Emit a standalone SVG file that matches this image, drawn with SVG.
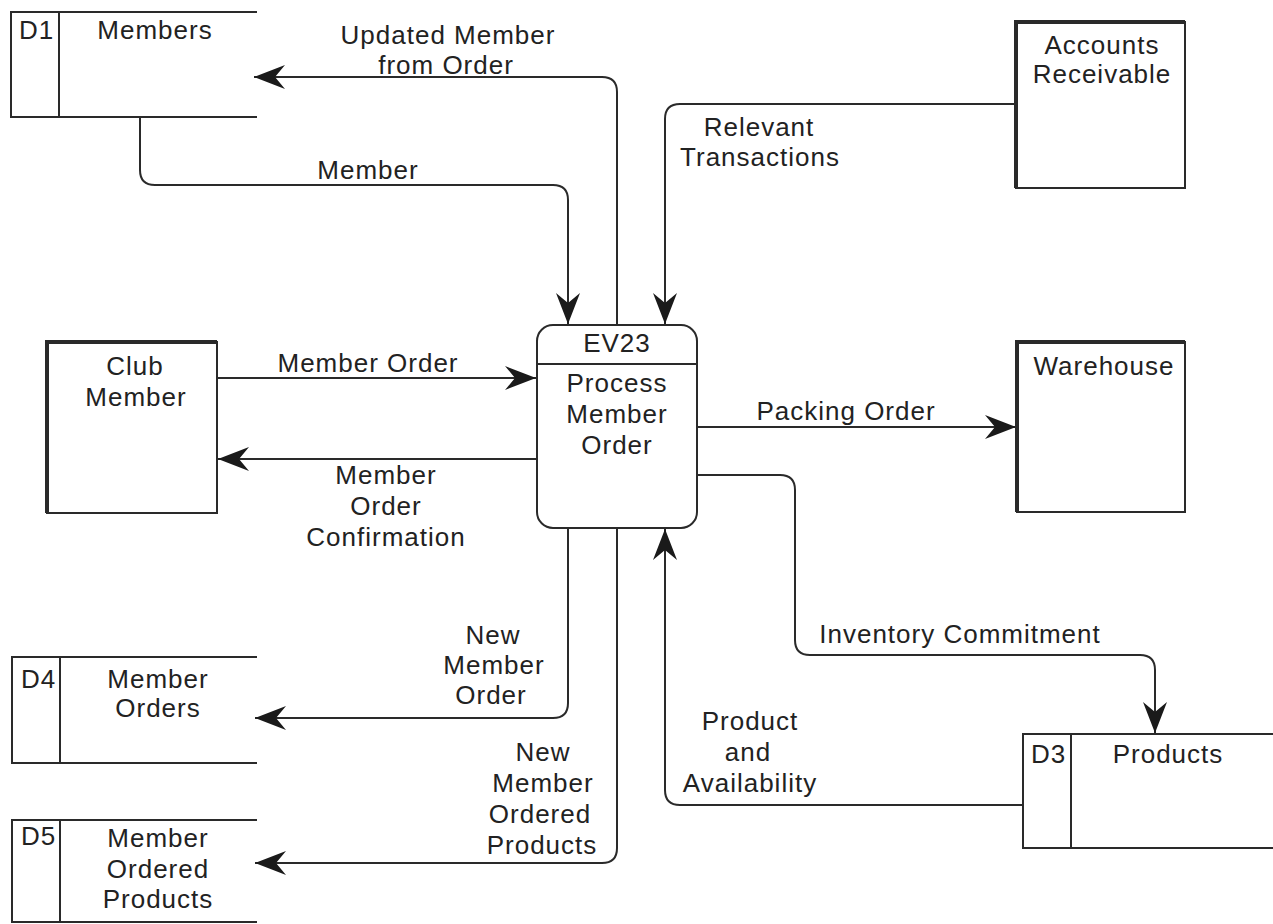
<svg xmlns="http://www.w3.org/2000/svg" width="1273" height="924" viewBox="0 0 1273 924">
<style>
text{font-family:"Liberation Sans",Arial,sans-serif;font-size:26px;letter-spacing:1px;fill:#222;text-anchor:middle}
.l{text-anchor:start}
.ln{fill:none;stroke:#2a2a2a;stroke-width:2}
.c{fill:none;stroke:#2a2a2a;stroke-width:2;marker-end:url(#arr)}
.ent{fill:#fff;stroke:#2a2a2a;stroke-width:2}
.thick{stroke:#2a2a2a;stroke-width:4;fill:none}
</style>
<defs>
<marker id="arr" viewBox="-32 -13 34 26" refX="0" refY="0" markerWidth="34" markerHeight="26" markerUnits="userSpaceOnUse" orient="auto">
<path d="M0,0 L-31,-12 L-21,0 L-31,12 Z" fill="#1a1a1a"/>
</marker>
</defs>
<rect width="1273" height="924" fill="#fff"/>

<g id="connectors">
<path class="c" d="M617,325 V92 Q617,77 602,77 H254"/>
<path class="c" d="M140,117 V170 Q140,185 155,185 H553 Q568,185 568,200 V324"/>
<path class="c" d="M1016,104 H680 Q665,104 665,119 V324"/>
<path class="c" d="M217,378 H536"/>
<path class="c" d="M537,459 H218"/>
<path class="c" d="M697,427 H1016"/>
<path class="c" d="M697,475 H780 Q795,475 795,490 V640 Q795,655 810,655 H1140 Q1155,655 1155,670 V733"/>
<path class="c" d="M1023,805 H680 Q665,805 665,790 V529"/>
<path class="c" d="M568,528 V703 Q568,718 553,718 H255"/>
<path class="c" d="M617,528 V848 Q617,863 602,863 H255"/>
<text x="448" y="44">Updated Member</text>
<text x="446" y="74">from Order</text>
<text x="368" y="179">Member</text>
<text x="759" y="136">Relevant</text>
<text x="760" y="166">Transactions</text>
<text x="368" y="372">Member Order</text>
<text x="386" y="484">Member</text>
<text x="386" y="515">Order</text>
<text x="386" y="546">Confirmation</text>
<text x="846" y="420">Packing Order</text>
<text x="960" y="643">Inventory Commitment</text>
<text x="493" y="644">New</text>
<text x="494" y="674">Member</text>
<text x="491" y="704">Order</text>
<text x="543" y="761">New</text>
<text x="543" y="792">Member</text>
<text x="540" y="823">Ordered</text>
<text x="542" y="854">Products</text>
<text x="750" y="730">Product</text>
<text x="748" y="761">and</text>
<text x="750" y="792">Availability</text>
</g>

<g id="d1-members">
<path class="ln" d="M257,12 H11 V117 H257 M59,12 V117"/>
<text class="l" x="19" y="39">D1</text>
<text x="155" y="39">Members</text>
</g>

<g id="accounts-receivable">
<rect class="ent" x="1016" y="22" width="169" height="166"/>
<path class="thick" d="M1016,188 V22 H1185"/>
<text x="1102" y="54">Accounts</text>
<text x="1102" y="83">Receivable</text>
</g>

<g id="club-member">
<rect class="ent" x="47" y="342" width="170" height="171"/>
<path class="thick" d="M47,513 V342 H217"/>
<text x="135" y="375">Club</text>
<text x="136" y="406">Member</text>
</g>

<g id="process">
<rect class="ent" x="537" y="325" width="160" height="203" rx="16"/>
<path class="ln" d="M537,364 H697"/>
<text x="617" y="352">EV23</text>
<text x="617" y="392">Process</text>
<text x="617" y="423">Member</text>
<text x="617" y="454">Order</text>
</g>

<g id="warehouse">
<rect class="ent" x="1017" y="342" width="168" height="170"/>
<path class="thick" d="M1017,512 V342 H1185"/>
<text x="1104" y="375">Warehouse</text>
</g>

<g id="d4-member-orders">
<path class="ln" d="M257,657 H12 V763 H257 M60,657 V763"/>
<text class="l" x="21" y="688">D4</text>
<text x="158" y="688">Member</text>
<text x="158" y="717">Orders</text>
</g>

<g id="d5-member-ordered-products">
<path class="ln" d="M257,820 H12 V922 H257 M60,820 V922"/>
<text class="l" x="21" y="845">D5</text>
<text x="158" y="847">Member</text>
<text x="158" y="878">Ordered</text>
<text x="158" y="908">Products</text>
</g>

<g id="d3-products">
<path class="ln" d="M1273,734 H1023 V848 H1273 M1071,734 V848"/>
<text class="l" x="1031" y="763">D3</text>
<text x="1168" y="763">Products</text>
</g>
</svg>
